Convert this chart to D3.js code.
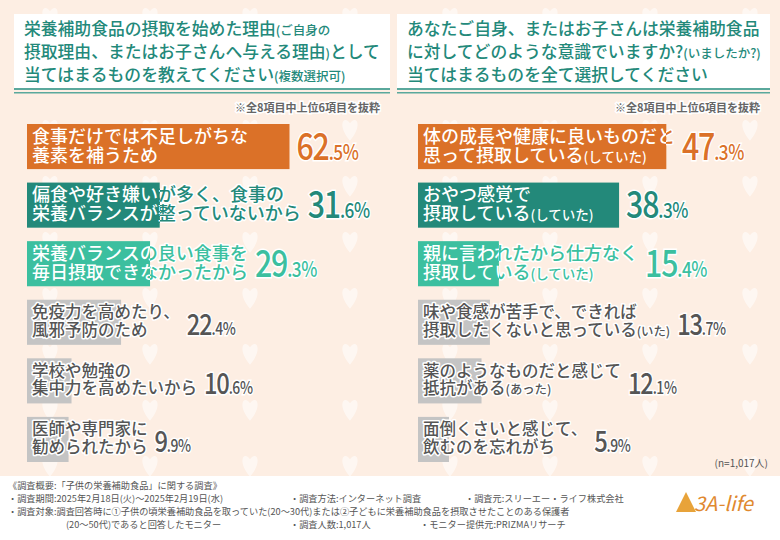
<!DOCTYPE html>
<meta charset="utf-8">
<script src="https://cdn.jsdelivr.net/npm/d3@7"></script>
<style>
  body { margin: 0; }
  text { font-family: "Noto Sans CJK JP", sans-serif; }
</style>
<div id="chart"></div>
<script>
  const width = 780, height = 540;

  // left panel data
  const leftLabels = [
    ["食事だけでは不足しがちな", "養素を補うため"],
    ["偏食や好き嫌いが多く、食事の", "栄養バランスが整っていないから"],
    ["栄養バランスの良い食事を", "毎日摂取できなかったから"],
    ["免疫力を高めたり、", "風邪予防のため"],
    ["学校や勉強の", "集中力を高めたいから"],
    ["医師や専門家に", "勧められたから"]
  ];
  const leftValues = [62.5, 31.6, 29.3, 22.4, 10.6, 9.9];

  // right panel data
  const rightLabels = [
    ["体の成長や健康に良いものだと", "思って摂取している(していた)"],
    ["おやつ感覚で", "摂取している(していた)"],
    ["親に言われたから仕方なく", "摂取している(していた)"],
    ["味や食感が苦手で、できれば", "摂取したくないと思っている(いた)"],
    ["薬のようなものだと感じて", "抵抗がある(あった)"],
    ["面倒くさいと感じて、", "飲むのを忘れがち"]
  ];
  const rightValues = [47.3, 38.3, 15.4, 13.7, 12.1, 5.9];

  const barColors = ["#db7128", "#23897a", "#3cbf9f", "#c4c4c4", "#c4c4c4", "#c4c4c4"];
  const valColors = ["#db7128", "#23897a", "#3cbf9f", "#555", "#555", "#555"];

  const svg = d3.select("#chart").append("svg")
    .attr("width", width).attr("height", height);
  const defs = svg.append("defs");

  svg.append("rect").attr("width", width).attr("height", height).attr("fill", "#fdeee3");

  // faint heart pattern
  const heart = "M0,4 C-6,-3 -3,-8 0,-4 C3,-8 6,-3 0,4Z";
  for (let y = 20; y < 480; y += 56) {
    for (let x = (y / 56) % 2 ? 50 : 0; x < width; x += 100) {
      svg.append("path").attr("d", heart)
        .attr("transform", `translate(${x},${y}) scale(2.2)`)
        .attr("fill", "#fff").attr("opacity", 0.55);
    }
  }

  function header(x0, w, lines) {
    svg.append("rect").attr("x", x0).attr("y", 14).attr("width", w).attr("height", 74).attr("fill", "#fff");
    svg.append("rect").attr("x", x0).attr("y", 88).attr("width", w).attr("height", 2).attr("fill", "#5aa89c");
    svg.append("rect").attr("x", x0).attr("y", 92).attr("width", w).attr("height", 1.5).attr("fill", "#5aa89c");
    lines.forEach((parts, i) => {
      const t = svg.append("text").attr("x", x0 + 10).attr("y", 35 + i * 23)
        .attr("fill", "#23897a").attr("font-weight", 500);
      parts.forEach(p => t.append("tspan").attr("font-size", p[1] ? 12.5 : 16.8).text(p[0]));
    });
    svg.append("text").attr("x", x0 + w - 10).attr("y", 112).attr("text-anchor", "end")
      .attr("font-size", 11).attr("font-weight", 700).attr("fill", "#666")
      .attr("stroke", "#fff").attr("stroke-width", 3).attr("paint-order", "stroke")
      .text("※全8項目中上位6項目を抜粋");
  }

  header(14, 376, [
    [["栄養補助食品の摂取を始めた理由"], ["(ご自身の", 1]],
    [["摂取理由、またはお子さんへ与える理由"], [")", 1], ["として"]],
    [["当てはまるものを教えてください"], ["(複数選択可)", 1]]
  ]);
  header(397, 373, [
    [["あなたご自身、またはお子さんは栄養補助食品"]],
    [["に対してどのような意識でいますか?"], ["(いましたか?)", 1]],
    [["当てはまるものを全て選択してください"]]
  ]);

  const y = d3.scaleBand().domain(d3.range(6)).range([124, 462]).paddingInner(0.23);

  // hard-edged gradient: colour a inside the bar, colour b outside
  function split(id, end, a, b) {
    const gr = defs.append("linearGradient").attr("id", id)
      .attr("gradientUnits", "userSpaceOnUse").attr("x1", 0).attr("x2", width).attr("y1", 0).attr("y2", 0);
    const o = end / width;
    gr.append("stop").attr("offset", o).attr("stop-color", a);
    gr.append("stop").attr("offset", o).attr("stop-color", b);
    return `url(#${id})`;
  }

  function panel(id, x0, labels, values, pxPerPt) {
    const x = d3.scaleLinear().domain([0, 1]).range([x0, x0 + pxPerPt]);
    const g = svg.append("g");
    values.forEach((v, i) => {
      const top = y(i), bh = y.bandwidth();
      const big = i < 3;
      g.append("rect").attr("x", x0).attr("y", top).attr("width", x(v) - x0).attr("height", bh)
        .attr("fill", barColors[i]);
      const fs = big ? 18 : 16.5;
      let fill = "#555", stroke = "#fff";
      if (big) {
        fill = split(`${id}f${i}`, x(v), "#fff", barColors[i]);
        stroke = split(`${id}s${i}`, x(v), barColors[i], "#fff");
      }
      let maxLen = 0;
      const t = g.append("text").attr("font-weight", 500)
        .attr("fill", fill).attr("stroke", stroke).attr("stroke-width", 3)
        .attr("paint-order", "stroke").attr("stroke-linejoin", "round");
      labels[i].forEach((l, k) => {
        const m = l.match(/^([^(]*)(\(.*\))?$/);
        const line = t.append("tspan").attr("x", x0 + 5).attr("y", top + bh / 2 - 4 + k * (fs + 1))
          .attr("font-size", fs).text(m[1]);
        let len = line.node().getComputedTextLength();
        if (m[2]) {
          const p = t.append("tspan").attr("font-size", fs * 0.75).text(m[2]);
          len += p.node().getComputedTextLength();
        }
        maxLen = Math.max(maxLen, len);
      });
      const s = v.toFixed(1).split(".");
      const vx = Math.max(x0 + 5 + maxLen, x(v)) + 7;
      const vt = g.append("text")
        .attr("transform", `translate(${vx},${top + bh / 2 + 13}) scale(0.82,1)`)
        .attr("fill", valColors[i]).attr("font-weight", 500)
        .attr("font-family", "Roboto, sans-serif")
        .attr("stroke", "#fff").attr("stroke-width", 3).attr("paint-order", "stroke");
      vt.append("tspan").attr("font-size", big ? 37 : 29).attr("letter-spacing", -1.5).text(s[0]);
      vt.append("tspan").attr("font-size", big ? 21 : 17).attr("letter-spacing", -0.5).text("." + s[1] + "%");
    });
  }

  panel("L", 27, leftLabels, leftValues, 4.2);
  panel("R", 418, rightLabels, rightValues, 5.25);

  svg.append("text").attr("x", 768).attr("y", 467).attr("text-anchor", "end")
    .attr("font-size", 10).attr("fill", "#555").text("(n=1,017人)");

  // footer
  svg.append("rect").attr("y", 476).attr("width", width).attr("height", 64).attr("fill", "#fff");
  const foot = [
    [[8, "《調査概要:「子供の栄養補助食品」に関する調査》"]],
    [[8, "・調査期間:2025年2月18日(火)～2025年2月19日(水)"], [290, "・調査方法:インターネット調査"], [465, "・調査元:スリーエー・ライフ株式会社"]],
    [[8, "・調査対象:調査回答時に①子供の頃栄養補助食品を取っていた(20～30代)または②子どもに栄養補助食品を摂取させたことのある保護者"]],
    [[66, "(20～50代)であると回答したモニター"], [290, "・調査人数:1,017人"], [420, "・モニター提供元:PRIZMAリサーチ"]]
  ];
  foot.forEach((row, i) => row.forEach(([fx, t]) => {
    svg.append("text").attr("x", fx).attr("y", 489 + i * 13).attr("font-size", 9.2)
      .attr("fill", "#555").text(t);
  }));
  svg.append("path").attr("d", "M676,512 L686,492 L696,512 Z").attr("fill", "#e8a33a");
  svg.append("text").attr("x", 694).attr("y", 511).attr("font-size", 20)
    .attr("font-family", "Liberation Serif, serif").attr("font-style", "italic")
    .attr("fill", "#e0892f").text("3A-life");
</script>
